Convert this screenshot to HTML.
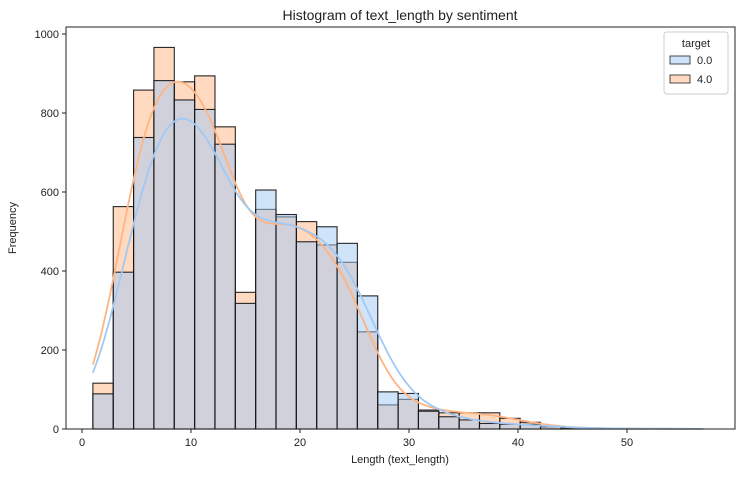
<!DOCTYPE html>
<html><head><meta charset="utf-8"><style>
body{margin:0;background:#fff;}
svg text{font-family:"Liberation Sans","DejaVu Sans",sans-serif;fill:#222;}
</style></head><body>
<svg id="chart" width="742" height="472">
<text x="400" y="20" font-size="14" text-anchor="middle">Histogram of text_length by sentiment</text>
<g id="bars"></g><g id="kde"></g><g id="axes"></g>
<text x="400" y="463" font-size="11" text-anchor="middle">Length (text_length)</text>
<text x="16" y="228" font-size="11" text-anchor="middle" transform="rotate(-90 16 228)">Frequency</text>
<g>
<rect x="664" y="32" width="64" height="62" rx="3" fill="#fff" stroke="#ccc"/>
<text x="696" y="47" font-size="11" text-anchor="middle">target</text>
<g><rect x="670" y="56" width="20" height="8" fill="#a1c9f4" fill-opacity="0.5" stroke="#222" stroke-width="0.8"/><text x="697" y="64" font-size="11">0.0</text></g>
<g><rect x="670" y="75" width="20" height="8" fill="#ffb482" fill-opacity="0.5" stroke="#222" stroke-width="0.8"/><text x="697" y="83" font-size="11">4.0</text></g>
</g>
</svg>
<script>
const binStart = 1, binWidth = 56/30;
const countsNeg = [89,397,738,882,833,809,721,318,605,543,474,512,470,337,94,90,45,31,23,14,12,12,6,3,2,1,1,1,1,0];
const countsPos = [116,563,858,966,879,894,765,346,556,537,525,466,422,246,61,75,48,41,41,41,27,17,6,3,2,1,1,0,0,0];
const xTicks = [0,10,20,30,40,50];
const yTicks = [0,200,400,600,800,1000];
const NS='http://www.w3.org/2000/svg';
const X = v => 82 + (v)*10.9;
const Y = v => 429 - v*0.395;
function mk(t,a,p){const e=document.createElementNS(NS,t);for(const k in a)e.setAttribute(k,a[k]);p.appendChild(e);return e;}
const bars=document.getElementById('bars'), kde=document.getElementById('kde'), axes=document.getElementById('axes');
function drawBars(counts,color,name){
  counts.forEach((c,i)=>{
    const x0=X(binStart+i*binWidth), x1=X(binStart+(i+1)*binWidth);
    const r=mk('rect',{x:x0,y:Y(c),width:x1-x0,height:Y(0)-Y(c),fill:color,'fill-opacity':0.5,stroke:'#111','stroke-opacity':0.9,'stroke-width':1.1},bars);
    
    
  });
}
drawBars(countsPos,'#ffb482','pos');
drawBars(countsNeg,'#a1c9f4','neg');
function drawKde(counts,color,name,bw){
  let d='';
  for(let x=1;x<=57;x+=0.25){
    let s=0;counts.forEach((c,i)=>{const m=binStart+(i+0.5)*binWidth;const z=(x-m)/bw;s+=c*Math.exp(-0.5*z*z)/(bw*Math.sqrt(2*Math.PI));});
    d+=(d?'L':'M')+X(x).toFixed(1)+','+Y(s*binWidth).toFixed(1);
  }
  const p=mk('path',{d:d,fill:'none',stroke:color,'stroke-width':1.8},kde);
  
  
}
drawKde(countsPos,'#ffb482','kde-pos',2.3);
drawKde(countsNeg,'#a1c9f4','kde-neg',2.6);
mk('rect',{x:66,y:27,width:669,height:402,fill:'none',stroke:'#222','stroke-width':1},axes);
xTicks.forEach(t=>{mk('line',{x1:X(t),x2:X(t),y1:429,y2:433,stroke:'#222'},axes);
  const e=mk('text',{x:X(t),y:446,'font-size':11,'text-anchor':'middle'},axes);e.textContent=t;
  
  });
yTicks.forEach(t=>{mk('line',{x1:62,x2:66,y1:Y(t),y2:Y(t),stroke:'#222'},axes);
  const e=mk('text',{x:59,y:Y(t)+4,'font-size':11,'text-anchor':'end'},axes);e.textContent=t;
  
  });
</script>
</body></html>
